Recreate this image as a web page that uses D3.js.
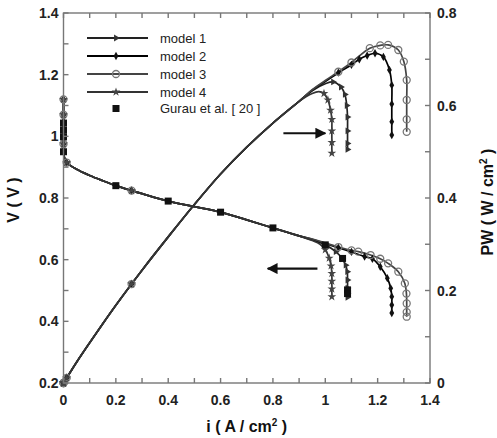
<!DOCTYPE html>
<html>
<head>
<meta charset="utf-8">
<script src="https://cdn.jsdelivr.net/npm/d3@7"></script>
<style>
  body { margin: 0; background: #fff; }
  svg { font-family: 'Liberation Sans', Arial, sans-serif; }
  .tick-label { font-size: 14px; font-weight: bold; fill: #222; }
  .title { font-size: 16px; font-weight: bold; fill: #111; }
  .legend { font-size: 13px; fill: #222; }
</style>
</head>
<body>
<script>
/* global d3 */
// Shared part of the polarization / power curves
var headI = [0, 0, 0, 0, 0, 0.004, 0.012, 0.05, 0.1, 0.15, 0.2, 0.26, 0.3, 0.4, 0.5, 0.6, 0.7, 0.8, 0.9]
var headV = [1.12, 1.07, 1.02, 0.975, 0.95, 0.93, 0.915, 0.893, 0.873, 0.856, 0.84, 0.824, 0.814, 0.79, 0.772, 0.754, 0.729, 0.703, 0.677]
var headP = [0, 0, 0, 0, 0, 0.004, 0.011, 0.045, 0.087, 0.128, 0.168, 0.214, 0.244, 0.316, 0.386, 0.452, 0.51, 0.562, 0.609]
// head points that carry markers
var headMarks = [0, 1, 3, 6, 11]

// Tails of each model: voltage
var m1I = [0.95, 1.0, 1.04, 1.065, 1.078, 1.084, 1.085, 1.085, 1.085, 1.085]
var m1V = [0.664, 0.648, 0.626, 0.603, 0.582, 0.561, 0.534, 0.508, 0.49, 0.478]
var m2I = [0.95, 1.0, 1.05, 1.1, 1.15, 1.18, 1.21, 1.237, 1.25, 1.254, 1.254, 1.254]
var m2V = [0.666, 0.652, 0.639, 0.625, 0.61, 0.603, 0.577, 0.54, 0.507, 0.48, 0.453, 0.427]
var m3I = [0.95, 1.0, 1.05, 1.1, 1.126, 1.173, 1.21, 1.24, 1.279, 1.304, 1.31, 1.311, 1.311, 1.311]
var m3V = [0.667, 0.654, 0.641, 0.63, 0.626, 0.615, 0.603, 0.588, 0.561, 0.523, 0.49, 0.458, 0.43, 0.415]
var m4I = [0.95, 0.98, 1.0, 1.015, 1.022, 1.025, 1.025, 1.025, 1.025]
var m4V = [0.662, 0.65, 0.632, 0.605, 0.58, 0.555, 0.53, 0.505, 0.48]

// Tails of each model: power density
var m1PI = [0.95, 1.0, 1.03, 1.06, 1.075, 1.082, 1.085, 1.085, 1.085, 1.085]
var m1P = [0.632, 0.647, 0.651, 0.64, 0.624, 0.6, 0.575, 0.545, 0.518, 0.505]
var m2PI = [0.95, 1.0, 1.05, 1.1, 1.13, 1.16, 1.19, 1.222, 1.245, 1.254, 1.254, 1.254, 1.254]
var m2P = [0.633, 0.652, 0.671, 0.688, 0.7, 0.708, 0.713, 0.705, 0.677, 0.644, 0.603, 0.565, 0.536]
var m3PI = [0.95, 1.0, 1.05, 1.1, 1.17, 1.21, 1.24, 1.279, 1.3, 1.311, 1.311, 1.311, 1.311]
var m3P = [0.634, 0.654, 0.673, 0.693, 0.724, 0.73, 0.731, 0.72, 0.695, 0.655, 0.612, 0.57, 0.543]
var m4PI = [0.95, 0.975, 0.995, 1.01, 1.02, 1.025, 1.025, 1.025, 1.025]
var m4P = [0.626, 0.63, 0.626, 0.612, 0.59, 0.57, 0.545, 0.52, 0.497]

// Gurau et al. [20] experiment
var gurauI = [0, 0, 0, 0, 0.2, 0.4, 0.6, 0.8, 1.0, 1.066, 1.085, 1.085]
var gurauV = [1.043, 1.02, 0.998, 0.95, 0.84, 0.79, 0.754, 0.703, 0.648, 0.604, 0.502, 0.49]

var modelNames = ['model 1', 'model 2', 'model 3', 'model 4']
var xTicks = [0, 0.2, 0.4, 0.6, 0.8, 1, 1.2, 1.4]
var vTicks = [0.2, 0.4, 0.6, 0.8, 1, 1.2, 1.4]
var pTicks = [0, 0.2, 0.4, 0.6, 0.8]

;(function () {
  'use strict'

  var W = 497
  var H = 438
  var left = 63.5
  var right = 430
  var top = 13
  var bottom = 383

  var x = d3.scaleLinear().domain([0, 1.4]).range([left, right])
  var yV = d3.scaleLinear().domain([0.2, 1.4]).range([bottom, top])
  var yP = d3.scaleLinear().domain([0, 0.8]).range([bottom, top])

  var svg = d3.select('body').append('svg')
    .attr('width', W)
    .attr('height', H)

  function zip (a, b) {
    return a.map(function (d, i) { return [d, b[i]] })
  }

  var headVPts = zip(headI, headV)
  var headPPts = zip(headI, headP)

  // line colour, marker colour
  var models = [
    { name: modelNames[0], color: '#222', mk: '#333', vt: zip(m1I, m1V), pt: zip(m1PI, m1P), sym: 'tri' },
    { name: modelNames[1], color: '#000', mk: '#111', vt: zip(m2I, m2V), pt: zip(m2PI, m2P), sym: 'diamond' },
    { name: modelNames[2], color: '#444', mk: '#777', vt: zip(m3I, m3V), pt: zip(m3PI, m3P), sym: 'ocircle' },
    { name: modelNames[3], color: '#333', mk: '#444', vt: zip(m4I, m4V), pt: zip(m4PI, m4P), sym: 'star' }
  ]

  var lineV = d3.line()
    .x(function (d) { return x(d[0]) })
    .y(function (d) { return yV(d[1]) })
    .curve(d3.curveCatmullRom.alpha(0.5))
  var lineP = d3.line()
    .x(function (d) { return x(d[0]) })
    .y(function (d) { return yP(d[1]) })
    .curve(d3.curveCatmullRom.alpha(0.5))

  function drawMarker (g, sym, color, cx, cy) {
    if (sym === 'ocircle') {
      g.append('circle').attr('cx', cx).attr('cy', cy).attr('r', 3.5)
        .attr('fill', 'none').attr('stroke', color).attr('stroke-width', 1.3)
      return
    }
    var type = d3.symbolDiamond
    var size = 20
    var rot = 0
    if (sym === 'tri') { type = d3.symbolTriangle; size = 20; rot = 90 }
    if (sym === 'star') { type = d3.symbolStar; size = 24 }
    g.append('path')
      .attr('d', d3.symbol().type(type).size(size)())
      .attr('transform', 'translate(' + cx + ',' + cy + ') rotate(' + rot + ')')
      .attr('fill', color)
  }

  var plot = svg.append('g')

  // curves
  models.forEach(function (m) {
    var vPts = headVPts.concat(m.vt)
    var pPts = headPPts.concat(m.pt)
    plot.append('path').attr('d', lineV(vPts))
      .attr('fill', 'none').attr('stroke', m.color).attr('stroke-width', 1.7)
    plot.append('path').attr('d', lineP(pPts))
      .attr('fill', 'none').attr('stroke', m.color).attr('stroke-width', 1.7)
  })

  // markers
  models.forEach(function (m) {
    var g = plot.append('g')
    headMarks.forEach(function (k) {
      drawMarker(g, m.sym, m.mk, x(headI[k]), yV(headV[k]))
      drawMarker(g, m.sym, m.mk, x(headI[k]), yP(headP[k]))
    })
    m.vt.slice(2).forEach(function (d) {
      drawMarker(g, m.sym, m.mk, x(d[0]), yV(d[1]))
    })
    m.pt.slice(2).forEach(function (d) {
      drawMarker(g, m.sym, m.mk, x(d[0]), yP(d[1]))
    })
  })

  // experiment
  plot.selectAll('rect.gurau')
    .data(zip(gurauI, gurauV))
    .enter().append('rect')
      .attr('class', 'gurau')
      .attr('x', function (d) { return x(d[0]) - 3.5 })
      .attr('y', function (d) { return yV(d[1]) - 3.5 })
      .attr('width', 7)
      .attr('height', 7)
      .attr('fill', '#111')

  // arrows
  var defs = svg.append('defs')
  defs.append('marker')
    .attr('id', 'ah')
    .attr('viewBox', '0 0 10 10')
    .attr('refX', 9).attr('refY', 5)
    .attr('markerWidth', 5).attr('markerHeight', 5)
    .attr('orient', 'auto')
    .append('path').attr('d', 'M0,0L10,5L0,10Z').attr('fill', '#111')

  svg.append('line')
    .attr('x1', x(0.84)).attr('x2', x(1.0))
    .attr('y1', yP(0.54)).attr('y2', yP(0.54))
    .attr('stroke', '#111').attr('stroke-width', 2.2)
    .attr('marker-end', 'url(#ah)')
  svg.append('line')
    .attr('x1', x(0.97)).attr('x2', x(0.78))
    .attr('y1', yV(0.571)).attr('y2', yV(0.571))
    .attr('stroke', '#111').attr('stroke-width', 2.2)
    .attr('marker-end', 'url(#ah)')

  // frame and inward ticks
  var frame = svg.append('g').attr('stroke', '#777').attr('stroke-width', 1.4)
  frame.append('rect')
    .attr('x', left).attr('y', top)
    .attr('width', right - left).attr('height', bottom - top)
    .attr('fill', 'none')

  d3.range(0, 1.401, 0.1).forEach(function (t) {
    frame.append('line').attr('x1', x(t)).attr('x2', x(t))
      .attr('y1', bottom).attr('y2', bottom - 5)
    frame.append('line').attr('x1', x(t)).attr('x2', x(t))
      .attr('y1', top).attr('y2', top + 5)
  })
  d3.range(0.2, 1.401, 0.1).forEach(function (t) {
    frame.append('line').attr('x1', left).attr('x2', left + 5)
      .attr('y1', yV(t)).attr('y2', yV(t))
  })
  d3.range(0, 0.801, 0.1).forEach(function (t) {
    frame.append('line').attr('x1', right).attr('x2', right - 5)
      .attr('y1', yP(t)).attr('y2', yP(t))
  })

  // tick labels
  svg.selectAll('text.xl').data(xTicks).enter().append('text')
    .attr('class', 'tick-label')
    .attr('x', function (d) { return x(d) })
    .attr('y', bottom + 22)
    .attr('text-anchor', 'middle')
    .text(function (d) { return d })
  svg.selectAll('text.vl').data(vTicks).enter().append('text')
    .attr('class', 'tick-label')
    .attr('x', left - 5)
    .attr('y', function (d) { return yV(d) + 5 })
    .attr('text-anchor', 'end')
    .text(function (d) { return d })
  svg.selectAll('text.pl').data(pTicks).enter().append('text')
    .attr('class', 'tick-label')
    .attr('x', right + 7)
    .attr('y', function (d) { return yP(d) + 5 })
    .attr('text-anchor', 'start')
    .text(function (d) { return d })

  // axis titles
  var xt = svg.append('text').attr('class', 'title')
    .attr('x', (left + right) / 2).attr('y', 432)
    .attr('text-anchor', 'middle')
  xt.append('tspan').text('i ( A / cm')
  xt.append('tspan').attr('dy', -6).attr('font-size', 10).text('2')
  xt.append('tspan').attr('dy', 6).text(' )')

  svg.append('text').attr('class', 'title')
    .attr('transform', 'translate(19,' + ((top + bottom) / 2 + 2) + ') rotate(-90)')
    .attr('text-anchor', 'middle')
    .text('V ( V )')

  var pt = svg.append('text').attr('class', 'title')
    .attr('transform', 'translate(493,' + ((top + bottom) / 2 + 4) + ') rotate(-90)')
    .attr('text-anchor', 'middle')
  pt.append('tspan').text('PW ( W / cm')
  pt.append('tspan').attr('dy', -6).attr('font-size', 10).text('2')
  pt.append('tspan').attr('dy', 6).text(' )')

  // legend
  var lg = svg.append('g')
  models.forEach(function (m, k) {
    var ly = 38 + k * 18
    lg.append('line').attr('x1', 87).attr('x2', 148)
      .attr('y1', ly).attr('y2', ly)
      .attr('stroke', m.color).attr('stroke-width', 2)
    drawMarker(lg, m.sym, m.mk, 116, ly)
    lg.append('text').attr('class', 'legend')
      .attr('x', 160).attr('y', ly + 4.5).text(m.name)
  })
  lg.append('rect').attr('x', 112.5).attr('y', 105).attr('width', 7).attr('height', 7)
    .attr('fill', '#111')
  lg.append('text').attr('class', 'legend')
    .attr('x', 160).attr('y', 113).text('Gurau et al. [ 20 ]')
}())
</script>
</body>
</html>
